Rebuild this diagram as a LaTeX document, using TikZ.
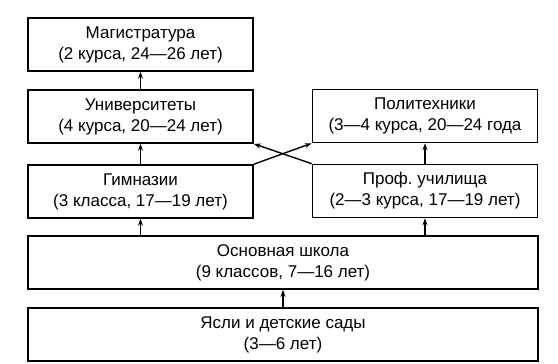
\documentclass[tikz,border=0pt]{standalone}
\usepackage{fontspec}
\setmainfont{Liberation Sans}
\usetikzlibrary{arrows.meta}

\tikzset{
  stage/.style={draw, line width=1.6pt, minimum height=53pt, inner sep=0pt,
    align=center, font=\fontsize{17}{21}\selectfont},
  halfstage/.style={stage, minimum width=225pt},
  fullstage/.style={stage, minimum width=510pt},
  pfeil/.style={-{Stealth[length=7pt,width=5pt]}, line width=1.4pt}
}

\begin{document}
\begin{tikzpicture}[x=1pt, y=-1pt]
\useasboundingbox (0,0) rectangle (558,364);

% ── Linke Spalte ──────────────────────────────────────────────
\node[halfstage] (mag)  at (140.5, 44.5)  {Магистратура\\(2 курса, 24—26 лет)};
\node[halfstage] (univ) at (140.5, 116.5) {Университеты\\(4 курса, 20—24 лет)};
\node[halfstage] (gym)  at (140.5, 191.5) {Гимназии\\(3 класса, 17—19 лет)};

% ── Rechte Spalte ─────────────────────────────────────────────
\node[halfstage] (poly) at (425, 116)     {Политехники\\(3—4 курса, 20—24 года};
\node[halfstage] (prof) at (425, 191)     {Проф.\ училища\\(2—3 курса, 17—19 лет)};

% ── Gemeinsame Stufen ─────────────────────────────────────────
\node[fullstage] (osn)   at (283, 262.5)  {Основная школа\\(9 классов, 7—16 лет)};
\node[fullstage] (yasli) at (283, 334.5)  {Ясли и детские сады\\(3—6 лет)};

% ── Übergänge ─────────────────────────────────────────────────
\draw[pfeil] (yasli) -- (osn);
\draw[pfeil] (gym.south |- osn.north) -- (gym.south);
\draw[pfeil] (prof.south |- osn.north) -- (prof.south);
\draw[pfeil] (gym) -- (univ);
\draw[pfeil] (univ) -- (mag);
\draw[pfeil] (prof) -- (poly);
% Kreuzung
\draw[pfeil] (gym.north east) -- (poly.south west);
\draw[pfeil] (prof.north west) -- (univ.south east);

\end{tikzpicture}
\end{document}
